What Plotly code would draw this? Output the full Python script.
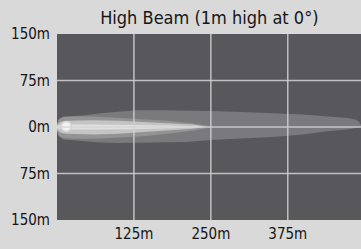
import plotly.graph_objects as go

# ---- data (metres) ----
x_ticks = [125, 250, 375]
x_tick_labels = ["125m", "250m", "375m"]
y_ticks = [150, 75, 0, -75, -150]
y_tick_labels = ["150m", "75m", "0m", "75m", "150m"]

# outer beam envelope
outer_x = [0, 3, 10, 25, 45, 70, 100, 130, 170, 210, 250, 300, 350, 400, 440, 470, 485, 491, 494]
outer_top = [6, 13, 17, 18, 19, 22, 25, 27, 27, 27, 26, 24, 22, 20, 17, 15, 12, 8, 3]
outer_bot = [-7, -15, -20, -21, -23, -25, -26, -26, -25, -24, -21, -18, -16, -12, -7, -4, -2, -1, 0]

# mid beam
mid_x = [0, 3, 10, 30, 60, 100, 140, 180, 220, 250]
mid_top = [5, 12, 16, 17, 17, 15, 13, 10, 6, 1]
mid_bot = [-6, -14, -18, -19, -19, -17, -15, -11, -6, -1]

# bright beam
inner_x = [0, 5, 15, 60, 100, 150, 190, 220, 235, 242]
inner_top = [3, 8, 10, 11, 10, 8, 6, 4, 2, 0]
inner_bot = [-4, -9, -11, -12, -11, -8, -5, -3, -1, 0]

# core
core_x = [0, 10, 60, 120, 180, 225, 238]
core_top = [2, 4, 4, 3.5, 2.5, 1, 0]
core_bot = [-2, -4, -4, -3.5, -2.5, -1, 0]

hotspot_x = [15]
hotspot_y = [1]


def poly(xs, top, bot):
    return list(xs) + list(xs[::-1]), list(top) + list(bot[::-1])


fig = go.Figure()
for xs, top, bot, col in [
    (outer_x, outer_top, outer_bot, "#7a7a7e"),
    (mid_x, mid_top, mid_bot, "#939396"),
    (inner_x, inner_top, inner_bot, "#c4c4c4"),
    (core_x, core_top, core_bot, "#e0e0e0"),
]:
    px, py = poly(xs, top, bot)
    fig.add_trace(go.Scatter(x=px, y=py, fill="toself", fillcolor=col,
                             mode="lines", line=dict(width=0, color=col),
                             hoverinfo="skip", showlegend=False))

fig.add_trace(go.Scatter(x=hotspot_x, y=hotspot_y, mode="markers",
                         marker=dict(size=10, color="#f2f2f2",
                                     line=dict(width=1.5, color="#d4d4d4")),
                         hoverinfo="skip", showlegend=False))

# gridlines drawn above the beam, at the tick values
grid_col = "rgba(210,210,210,0.85)"
for v in x_ticks:
    fig.add_shape(type="line", xref="x", yref="paper", x0=v, x1=v, y0=0, y1=1,
                  line=dict(color=grid_col, width=1.5), layer="above")
for v in y_ticks[1:-1]:
    fig.add_shape(type="line", xref="paper", yref="y", x0=0, x1=1, y0=v, y1=v,
                  line=dict(color=grid_col, width=1.5), layer="above")

font = "DejaVu Sans Condensed, DejaVu Sans, sans-serif"
fig.update_layout(
    width=361, height=249,
    margin=dict(l=57, r=0, t=34, b=29),
    paper_bgcolor="#d9d9d9",
    plot_bgcolor="#58585c",
    title=dict(text="High Beam (1m high at 0°)", x=0.58, xanchor="center",
               y=0.93, yanchor="middle",
               font=dict(family=font, size=18, color="#151515")),
    xaxis=dict(range=[0, 494], tickvals=x_ticks, ticktext=x_tick_labels,
               showgrid=False, zeroline=False, showline=False, ticks="",
               automargin=False, ticklabelstandoff=3,
               tickfont=dict(family=font, size=15, color="#151515"),
               fixedrange=True),
    yaxis=dict(range=[-150, 150], tickvals=y_ticks, ticktext=y_tick_labels,
               showgrid=False, zeroline=False, showline=False, ticks="",
               automargin=False, ticklabelstandoff=6,
               tickfont=dict(family=font, size=15, color="#151515"),
               fixedrange=True),
)

fig.write_html("out.html", config={"displayModeBar": False},
               post_script="document.body.style.margin='0px';document.body.style.overflow='hidden';")
